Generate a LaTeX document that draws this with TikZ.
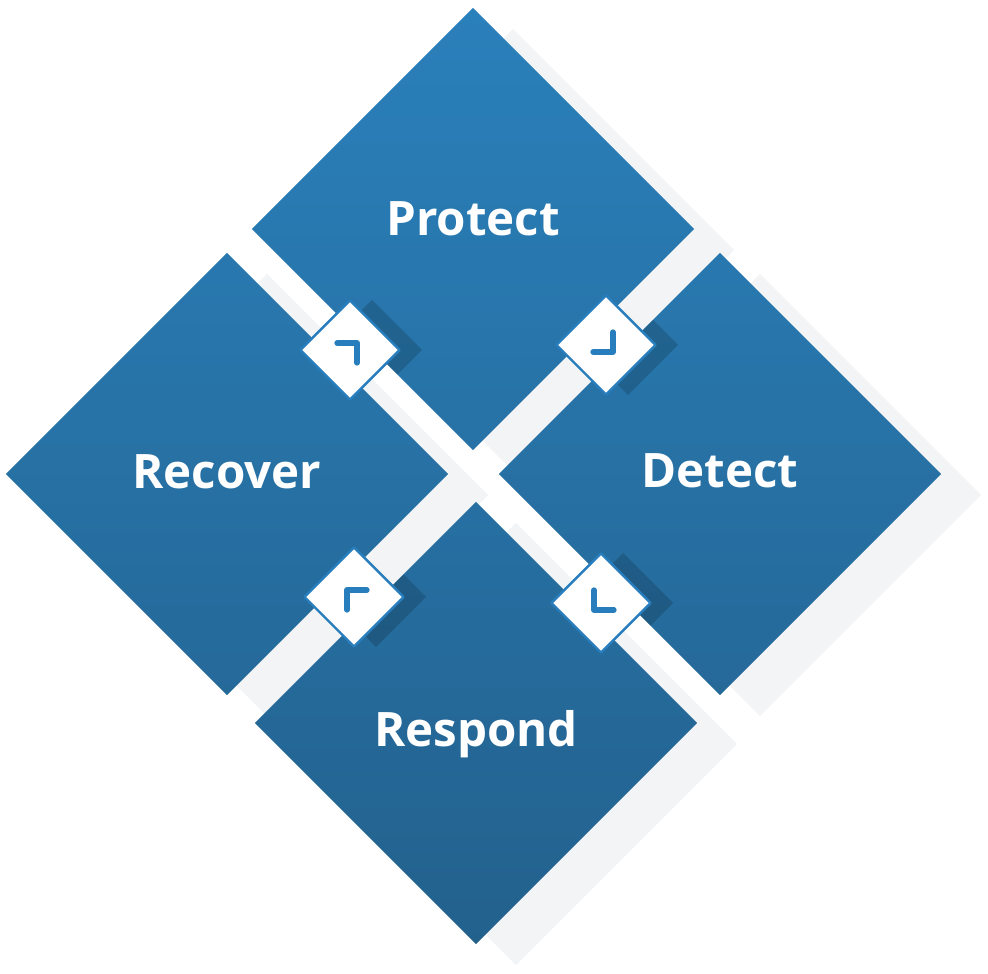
\documentclass[tikz,border=0pt]{standalone}
\usepackage{fontspec}
\setmainfont{Open Sans}
\usetikzlibrary{shapes.geometric}

\definecolor{cstop}{RGB}{42,128,187}
\definecolor{csbot}{RGB}{35,97,141}
\definecolor{haze}{RGB}{243,244,246}
\definecolor{rim}{RGB}{40,126,189}

\begin{document}
\begin{tikzpicture}[x=0.01cm,y=-0.01cm,line cap=round,line join=round,
    quad/.style={diamond,aspect=1,minimum size=4.42cm,inner sep=0pt,outer sep=0pt},
    tile/.style={quad,shading=axis},
    backdrop/.style={quad,fill=haze},
    gate/.style={diamond,aspect=1,minimum size=1cm,inner sep=0pt,fill=white,draw=rim,line width=0.7pt},
    chev/.style={rim,line width=1.5pt},
    lbl/.style={text=white,font=\fontsize{13.5}{16}\selectfont\bfseries,anchor=base}]
  \useasboundingbox (0,0) rectangle (988,974);

  % light shadows behind the four tiles
  \foreach \x/\y in {473/229, 227/474, 720/474, 476/723}
    \node[backdrop] at (\x+40,\y+21) {};

  % the four tiles, one gradient over the whole figure
  \foreach \n/\x/\y/\a/\b in {P/473/229/0/47, R/227/474/26/74, D/720/474/26/74, S/476/723/53/100}
    \node[tile,top color=csbot!\a!cstop,bottom color=csbot!\b!cstop] (\n) at (\x,\y) {};

  \node[lbl] (tP) at (473,236) {Protect};
  \node[lbl] (tR) at (227,489) {Recover};
  \node[lbl] (tD) at (720,488) {Detect};
  \node[lbl] (tS) at (476,747) {Respond};

  % small gates with turn marks
  \foreach \n/\x/\y/\u/\sx/\sy in {gUL/350/350/P/1/-1, gUR/606/345/D/1/1, gLR/601/603/D/-1/1, gLL/354/597/S/-1/-1}{
    \begin{scope}
      \clip (\u.north) -- (\u.east) -- (\u.south) -- (\u.west) -- cycle;
      \fill[black,opacity=.16] (\x+22,\y-50) -- (\x+72,\y) -- (\x+22,\y+50) -- (\x-28,\y) -- cycle;
    \end{scope}
    \node[gate] (\n) at (\x,\y) {};
    \draw[chev] ([shift={(-13*\sx,7*\sy)}]\n.center) -- ([shift={(7*\sx,7*\sy)}]\n.center)
      -- ([shift={(7*\sx,-13*\sy)}]\n.center);
  }
\end{tikzpicture}
\end{document}
